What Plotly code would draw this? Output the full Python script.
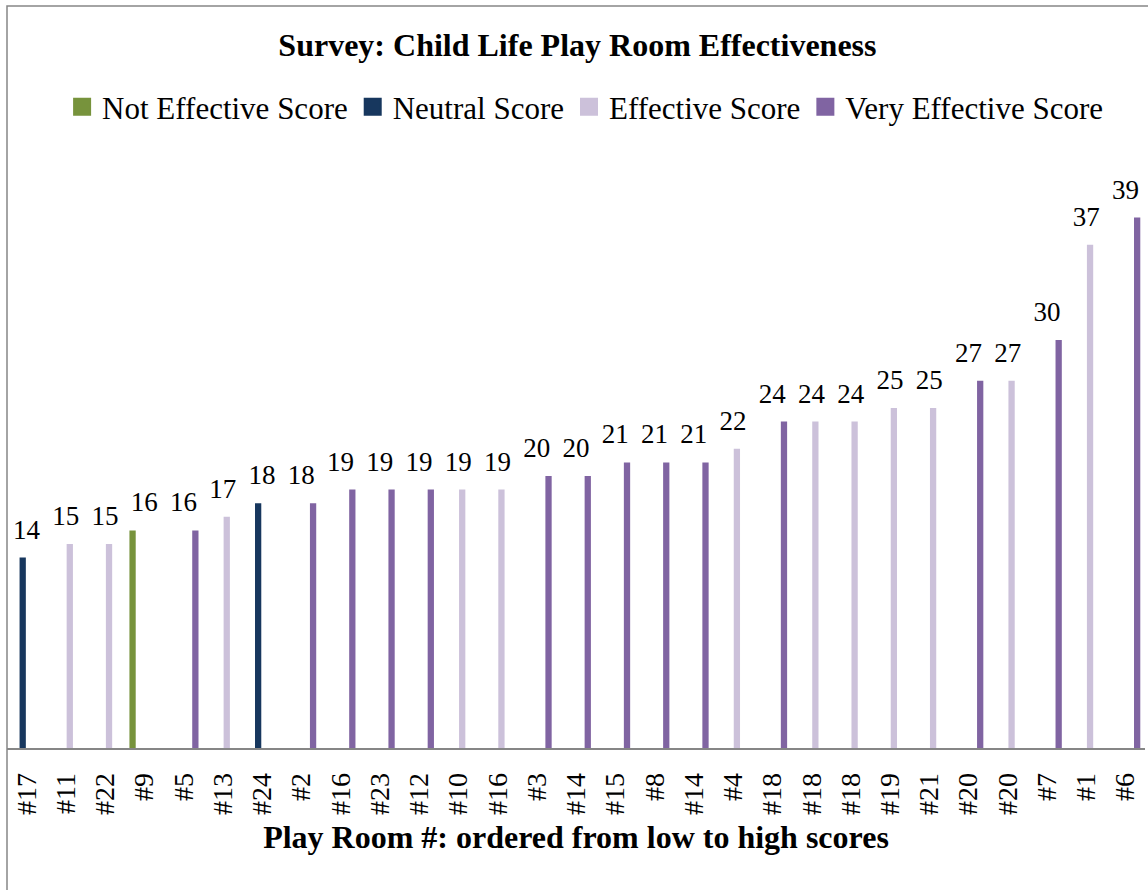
import plotly.graph_objects as go

rooms = ["#17", "#11", "#22", "#9", "#5", "#13", "#24", "#2", "#16", "#23",
         "#12", "#10", "#16", "#3", "#14", "#15", "#8", "#14", "#4", "#18",
         "#18", "#18", "#19", "#21", "#20", "#20", "#7", "#1", "#6"]
scores = [14, 15, 15, 16, 16, 17, 18, 18, 19, 19,
          19, 19, 19, 20, 20, 21, 21, 21, 22, 24,
          24, 24, 25, 25, 27, 27, 30, 37, 39]
ratings = ["Neutral", "Effective", "Effective", "Not Effective", "Very Effective",
           "Effective", "Neutral", "Very Effective", "Very Effective", "Very Effective",
           "Very Effective", "Effective", "Effective", "Very Effective", "Very Effective",
           "Very Effective", "Very Effective", "Very Effective", "Effective", "Very Effective",
           "Effective", "Effective", "Effective", "Effective", "Very Effective",
           "Effective", "Very Effective", "Effective", "Very Effective"]
series_names = ["Not Effective", "Neutral", "Effective", "Very Effective"]
series_colors = ["#77933C", "#17375E", "#CCC1DA", "#8064A2"]

FONT = "Liberation Serif"
xs = list(range(len(rooms)))

fig = go.Figure()
for name, color in zip(series_names, series_colors):
    yvals = [s if r == name else None for s, r in zip(scores, ratings)]
    fig.add_trace(go.Bar(x=xs, y=yvals, name=name + " Score",
                         legendgroup=name, showlegend=False,
                         marker=dict(color=color, line=dict(width=0)),
                         hoverinfo="skip"))

# legend entries with square swatches
for name, color in zip(series_names, series_colors):
    fig.add_trace(go.Scatter(x=[None], y=[None], mode="markers", name=name + " Score",
                             legendgroup=name, showlegend=True,
                             marker=dict(symbol="square", size=16, color=color,
                                         line=dict(color=color, width=2)),
                             hoverinfo="skip"))

fig.add_trace(go.Scatter(x=xs, y=scores, mode="markers+text",
                         text=[str(s) for s in scores], textposition="top center",
                         textfont=dict(family=FONT, size=27, color="black"),
                         marker=dict(size=18, opacity=0),
                         showlegend=False, hoverinfo="skip", cliponaxis=False))

fig.update_layout(
    width=1148, height=890,
    margin=dict(l=7, r=3, t=136, b=142),
    paper_bgcolor="white", plot_bgcolor="white",
    barmode="group", bargap=0.2, bargroupgap=0.2,
    font=dict(family=FONT, color="black"),
    title=dict(text="<b>Survey: Child Life Play Room Effectiveness</b>",
               font=dict(family=FONT, size=32, color="black"),
               x=0.503, xanchor="center", y=1 - 45 / 890, yanchor="middle"),
    legend=dict(orientation="h", x=0.508, xanchor="center",
                y=(748 - 107) / 612, yanchor="middle",
                font=dict(family=FONT, size=31, color="black"),
                itemwidth=30, itemsizing="trace", traceorder="normal"),
    showlegend=True,
)
fig.update_xaxes(range=[-0.5, len(rooms) - 0.5], tickmode="array",
                 tickvals=xs, ticktext=rooms, tickangle=-90,
                 tickfont=dict(family=FONT, size=28, color="black"),
                 ticks="", ticklabelstandoff=12,
                 showline=True, linecolor="#868686", linewidth=1.5,
                 showgrid=False, zeroline=False,
                 title=dict(text="<b>Play Room #: ordered from low to high scores</b>",
                            font=dict(family=FONT, size=32, color="black"),
                            standoff=12))
fig.update_yaxes(range=[0, 45], visible=False, showgrid=False, zeroline=False)

# chart border (left and top edges visible in the reference)
fig.add_shape(type="rect", xref="paper", yref="paper",
              x0=0, x1=(1170 - 7) / 1138, y0=(748 - 910) / 612, y1=(748 - 6) / 612,
              line=dict(color="#868686", width=1.5), fillcolor="rgba(0,0,0,0)",
              layer="below")

fig.write_html("out.html")
